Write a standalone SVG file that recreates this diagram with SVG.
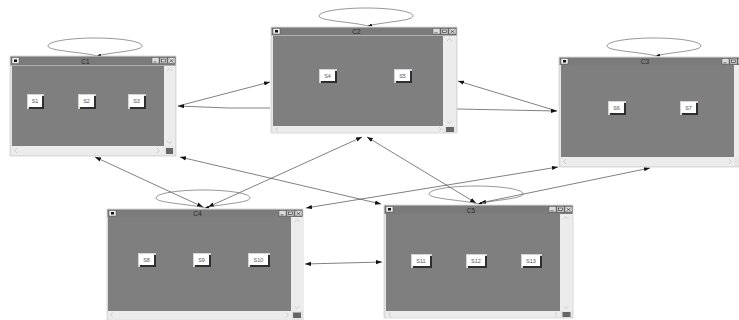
<svg xmlns="http://www.w3.org/2000/svg" xmlns:xlink="http://www.w3.org/1999/xlink" width="739" height="320" viewBox="0 0 739 320">
<style>
.bg{fill:#ffffff}
.frame{fill:#e6e6e6;stroke:#c2c2c2;stroke-width:0.6}
.title{fill:#7b7b7b}
.content{fill:#7f7f7f}
.scroll{fill:#ececec}
.icon{fill:#eeeeee;stroke:#444;stroke-width:0.4}
.dot{fill:#111}
.tbtn{fill:#dcdcdc;stroke:#444;stroke-width:0.4}
.glyph{fill:none;stroke:#222;stroke-width:0.6}
.grip{fill:#666}
.sarr{fill:none;stroke:#b8b8b8;stroke-width:0.6}
.ttxt{font-family:"Liberation Sans",Arial,sans-serif;font-size:6.5px;fill:#2a2a2a;text-anchor:middle}
.bedge{fill:#d4d4d4}
.bface{fill:#ffffff}
.bshadow{fill:#2e2e2e}
.btxt{font-family:"Liberation Sans",Arial,sans-serif;font-size:5.5px;fill:#555;text-anchor:middle}
.edge{fill:none;stroke:#4a4a4a;stroke-width:0.7}
.loop{fill:none;stroke:#6a6a6a;stroke-width:0.7}
</style>
<defs>
<marker id="ah" viewBox="0 0 10 10" refX="10" refY="5" markerUnits="userSpaceOnUse" markerWidth="6" markerHeight="6" orient="auto-start-reverse">
<path d="M0,1.5 L10,5 L0,8.5 z" fill="#111"/>
</marker>
<marker id="lh" viewBox="0 0 10 10" refX="10" refY="5" markerUnits="userSpaceOnUse" markerWidth="4" markerHeight="4" orient="auto">
<path d="M0,1.5 L10,5 L0,8.5 z" fill="#111"/>
</marker>
<path id="loopshape" d="M0,0 C-14,-4 -49,-5 -49,-10 C-49,-15 -25,-18 -2,-18 C21,-18 45,-15 45,-10 C45,-5 14,-4 0,0" fill="none" stroke="#6a6a6a" stroke-width="0.7" marker-end="url(#lh)"/>
</defs>
<rect class="bg" x="0" y="0" width="739" height="320"/>

<g id="connectors">
<line class="edge" x1="178" y1="106" x2="270" y2="82" marker-end="url(#ah)"/>
<polyline class="edge" points="270,108 228,108 178,106" marker-end="url(#ah)"/>
<line class="edge" x1="557" y1="111" x2="458" y2="81" marker-end="url(#ah)"/>
<line class="edge" x1="457" y1="109" x2="557" y2="111" marker-end="url(#ah)"/>
<line class="edge" x1="95" y1="157" x2="203" y2="207" marker-start="url(#ah)" marker-end="url(#ah)"/>
<line class="edge" x1="180" y1="157" x2="381" y2="204" marker-start="url(#ah)" marker-end="url(#ah)"/>
<line class="edge" x1="362" y1="137" x2="208" y2="207" marker-start="url(#ah)" marker-end="url(#ah)"/>
<line class="edge" x1="367" y1="137" x2="476" y2="203" marker-start="url(#ah)" marker-end="url(#ah)"/>
<line class="edge" x1="558" y1="167" x2="306" y2="208" marker-start="url(#ah)" marker-end="url(#ah)"/>
<line class="edge" x1="650" y1="168" x2="480" y2="203" marker-start="url(#ah)" marker-end="url(#ah)"/>
<line class="edge" x1="305" y1="264" x2="382" y2="262" marker-start="url(#ah)" marker-end="url(#ah)"/>
<use xlink:href="#loopshape" href="#loopshape" transform="translate(97,56)"/>
<use xlink:href="#loopshape" href="#loopshape" transform="translate(368,26)"/>
<use xlink:href="#loopshape" href="#loopshape" transform="translate(656,56)"/>
<use xlink:href="#loopshape" href="#loopshape" transform="translate(205,208)"/>
<use xlink:href="#loopshape" href="#loopshape" transform="translate(478,204)"/>
</g>

<g id="C1">
<rect class="frame" x="10" y="56" width="166" height="100"/>
<rect class="title" x="10.5" y="56.5" width="165" height="9"/>
<rect class="icon" x="12" y="57.5" width="7" height="6"/><rect class="dot" x="14" y="59.5" width="3" height="2.5"/>
<rect class="tbtn" x="152" y="57.5" width="7" height="6"/><path class="glyph" d="M153.5,62 h3"/>
<rect class="tbtn" x="160" y="57.5" width="7" height="6"/><rect class="glyph" x="161.5" y="59" width="4" height="3"/>
<rect class="tbtn" x="168" y="57.5" width="7" height="6"/><path class="glyph" d="M169.5,59 l4,3.5 M173.5,59 l-4,3.5"/>
<text class="ttxt" x="85.5" y="63.5">C1</text>
<rect class="content" x="12" y="66" width="152" height="80"/>
<rect class="scroll" x="164" y="66" width="11" height="80"/>
<rect class="scroll" x="12" y="146" width="152" height="9"/>
<rect class="grip" x="166" y="148" width="7" height="6"/>
<path class="sarr" d="M167,71 l2.5,-2.5 l2.5,2.5 M167,141 l2.5,2.5 l2.5,-2.5 M17,148 l-2.5,2.5 l2.5,2.5 M157,148 l2.5,2.5 l-2.5,2.5"/>
<g><rect class="bedge" x="27" y="94" width="17" height="15"/><rect class="bface" x="28" y="95" width="14" height="12"/><rect class="bshadow" x="42" y="96" width="2" height="13"/><rect class="bshadow" x="29" y="107" width="15" height="2"/><text class="btxt" x="35" y="103">S1</text></g>
<g><rect class="bedge" x="78" y="94" width="18" height="15"/><rect class="bface" x="79" y="95" width="15" height="12"/><rect class="bshadow" x="94" y="96" width="2" height="13"/><rect class="bshadow" x="80" y="107" width="16" height="2"/><text class="btxt" x="86.5" y="103">S2</text></g>
<g><rect class="bedge" x="128" y="94" width="18" height="15"/><rect class="bface" x="129" y="95" width="15" height="12"/><rect class="bshadow" x="144" y="96" width="2" height="13"/><rect class="bshadow" x="130" y="107" width="16" height="2"/><text class="btxt" x="136.5" y="103">S3</text></g>
</g>

<g id="C2">
<rect class="frame" x="271" y="27" width="186" height="106"/>
<rect class="title" x="271.5" y="27.5" width="185" height="8"/>
<rect class="icon" x="273" y="28.5" width="7" height="5.5"/><rect class="dot" x="275" y="30" width="3" height="2.5"/>
<rect class="tbtn" x="433" y="28.5" width="7" height="5.5"/><path class="glyph" d="M434.5,32.8 h3"/>
<rect class="tbtn" x="441" y="28.5" width="7" height="5.5"/><rect class="glyph" x="442.5" y="30" width="4" height="2.6"/>
<rect class="tbtn" x="449" y="28.5" width="7" height="5.5"/><path class="glyph" d="M450.5,30 l4,3 M454.5,30 l-4,3"/>
<text class="ttxt" x="356.5" y="34">C2</text>
<rect class="content" x="273" y="36" width="170" height="90"/>
<rect class="scroll" x="443" y="36" width="13" height="90"/>
<rect class="scroll" x="273" y="126" width="170" height="6.5"/>
<rect class="grip" x="446" y="127" width="8" height="5"/>
<path class="sarr" d="M447,41 l2.5,-2.5 l2.5,2.5 M447,121 l2.5,2.5 l2.5,-2.5 M278,127 l-2.3,2.2 l2.3,2.2 M439,127 l2.3,2.2 l-2.3,2.2"/>
<g><rect class="bedge" x="319" y="69" width="18" height="14"/><rect class="bface" x="320" y="70" width="15" height="11"/><rect class="bshadow" x="335" y="71" width="2" height="12"/><rect class="bshadow" x="321" y="81" width="16" height="2"/><text class="btxt" x="327.5" y="77.5">S4</text></g>
<g><rect class="bedge" x="394" y="69" width="18" height="14"/><rect class="bface" x="395" y="70" width="15" height="11"/><rect class="bshadow" x="410" y="71" width="2" height="12"/><rect class="bshadow" x="396" y="81" width="16" height="2"/><text class="btxt" x="402.5" y="77.5">S5</text></g>
</g>

<g id="C3">
<rect class="frame" x="559" y="57" width="190" height="110"/>
<rect class="title" x="559.5" y="57.5" width="189" height="7.5"/>
<rect class="icon" x="561" y="58.5" width="7" height="5.5"/><rect class="dot" x="563" y="60" width="3" height="2.5"/>
<rect class="tbtn" x="722" y="58.5" width="7" height="5.5"/><path class="glyph" d="M723.5,62.8 h3"/>
<rect class="tbtn" x="730" y="58.5" width="7" height="5.5"/><rect class="glyph" x="731.5" y="60" width="4" height="2.6"/>
<rect class="tbtn" x="738" y="58.5" width="7" height="5.5"/>
<text class="ttxt" x="645" y="64">C3</text>
<rect class="content" x="561" y="65" width="173" height="92"/>
<rect class="scroll" x="734" y="65" width="15" height="92"/>
<rect class="scroll" x="561" y="157" width="173" height="9"/>
<path class="sarr" d="M566,159 l-2.5,2.5 l2.5,2.5 M729,159 l2.5,2.5 l-2.5,2.5"/>
<g><rect class="bedge" x="608" y="101" width="18" height="14"/><rect class="bface" x="609" y="102" width="15" height="11"/><rect class="bshadow" x="624" y="103" width="2" height="12"/><rect class="bshadow" x="610" y="113" width="16" height="2"/><text class="btxt" x="616.5" y="109.5">S6</text></g>
<g><rect class="bedge" x="680" y="101" width="18" height="14"/><rect class="bface" x="681" y="102" width="15" height="11"/><rect class="bshadow" x="696" y="103" width="2" height="12"/><rect class="bshadow" x="682" y="113" width="16" height="2"/><text class="btxt" x="688.5" y="109.5">S7</text></g>
</g>

<g id="C4">
<rect class="frame" x="107" y="209" width="196" height="112"/>
<rect class="title" x="107.5" y="209.5" width="195" height="7.5"/>
<rect class="icon" x="109" y="210.5" width="7" height="5.5"/><rect class="dot" x="111" y="212" width="3" height="2.5"/>
<rect class="tbtn" x="279" y="210.5" width="7" height="5.5"/><path class="glyph" d="M280.5,214.8 h3"/>
<rect class="tbtn" x="287" y="210.5" width="7" height="5.5"/><rect class="glyph" x="288.5" y="212" width="4" height="2.6"/>
<rect class="tbtn" x="295" y="210.5" width="7" height="5.5"/><path class="glyph" d="M296.5,212 l4,3 M300.5,212 l-4,3"/>
<text class="ttxt" x="197.5" y="216">C4</text>
<rect class="content" x="108" y="217" width="183" height="94"/>
<rect class="scroll" x="291" y="217" width="12" height="94"/>
<rect class="scroll" x="108" y="311" width="183" height="8"/>
<rect class="grip" x="293" y="312.5" width="8" height="5.5"/>
<path class="sarr" d="M294.5,222 l2.5,-2.5 l2.5,2.5 M294.5,306 l2.5,2.5 l2.5,-2.5 M113,312.5 l-2.5,2.5 l2.5,2.5 M286,312.5 l2.5,2.5 l-2.5,2.5"/>
<g><rect class="bedge" x="138" y="253" width="18" height="14"/><rect class="bface" x="139" y="254" width="15" height="11"/><rect class="bshadow" x="154" y="255" width="2" height="12"/><rect class="bshadow" x="140" y="265" width="16" height="2"/><text class="btxt" x="146.5" y="261.5">S8</text></g>
<g><rect class="bedge" x="193" y="253" width="18" height="14"/><rect class="bface" x="194" y="254" width="15" height="11"/><rect class="bshadow" x="209" y="255" width="2" height="12"/><rect class="bshadow" x="195" y="265" width="16" height="2"/><text class="btxt" x="201.5" y="261.5">S9</text></g>
<g><rect class="bedge" x="248" y="253" width="22" height="14"/><rect class="bface" x="249" y="254" width="19" height="11"/><rect class="bshadow" x="268" y="255" width="2" height="12"/><rect class="bshadow" x="250" y="265" width="20" height="2"/><text class="btxt" x="258.5" y="261.5">S10</text></g>
</g>

<g id="C5">
<rect class="frame" x="384" y="205" width="189" height="113"/>
<rect class="title" x="384.5" y="205.5" width="188" height="8.5"/>
<rect class="icon" x="386" y="206.5" width="7" height="5.5"/><rect class="dot" x="388" y="208" width="3" height="2.5"/>
<rect class="tbtn" x="549" y="206.5" width="7" height="5.5"/><path class="glyph" d="M550.5,210.8 h3"/>
<rect class="tbtn" x="557" y="206.5" width="7" height="5.5"/><rect class="glyph" x="558.5" y="208" width="4" height="2.6"/>
<rect class="tbtn" x="565" y="206.5" width="7" height="5.5"/><path class="glyph" d="M566.5,208 l4,3 M570.5,208 l-4,3"/>
<text class="ttxt" x="471" y="212.5">C5</text>
<rect class="content" x="386" y="214" width="174" height="97"/>
<rect class="scroll" x="560" y="214" width="12.5" height="97"/>
<rect class="scroll" x="386" y="311" width="174" height="6.5"/>
<rect class="grip" x="562.5" y="312" width="8" height="5"/>
<path class="sarr" d="M563.5,219 l2.5,-2.5 l2.5,2.5 M563.5,306 l2.5,2.5 l2.5,-2.5 M391,312.3 l-2.3,2.2 l2.3,2.2 M555,312.3 l2.3,2.2 l-2.3,2.2"/>
<g><rect class="bedge" x="411" y="254" width="21" height="14"/><rect class="bface" x="412" y="255" width="18" height="11"/><rect class="bshadow" x="430" y="256" width="2" height="12"/><rect class="bshadow" x="413" y="266" width="19" height="2"/><text class="btxt" x="421" y="262.5">S11</text></g>
<g><rect class="bedge" x="466" y="254" width="21" height="14"/><rect class="bface" x="467" y="255" width="18" height="11"/><rect class="bshadow" x="485" y="256" width="2" height="12"/><rect class="bshadow" x="468" y="266" width="19" height="2"/><text class="btxt" x="476" y="262.5">S12</text></g>
<g><rect class="bedge" x="521" y="254" width="21" height="14"/><rect class="bface" x="522" y="255" width="18" height="11"/><rect class="bshadow" x="540" y="256" width="2" height="12"/><rect class="bshadow" x="523" y="266" width="19" height="2"/><text class="btxt" x="531" y="262.5">S13</text></g>
</g>
</svg>
